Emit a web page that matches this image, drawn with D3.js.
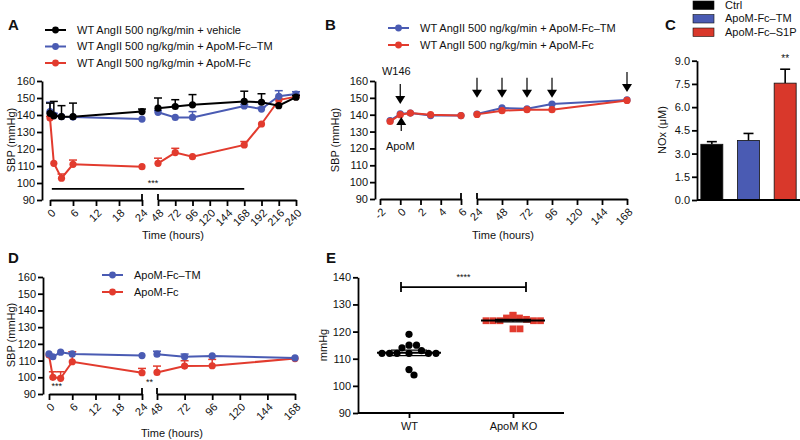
<!DOCTYPE html>
<html>
<head>
<meta charset="utf-8">
<script src="https://cdn.jsdelivr.net/npm/d3@7/dist/d3.min.js"></script>
<style>
  body { margin: 0; background: #fff; }
  svg text { font-family: "Liberation Sans", Arial, Helvetica, sans-serif; fill: #111; }
</style>
</head>
<body>
<svg id="fig" width="800" height="440"></svg>
<script>
const BLACK = '#000', BLUE = '#4a5bb3', RED = '#e23b2e';

// ---- Panel A: SBP over time, AngII infusion ----
const aTimes = [0, 1, 3, 6, 24, 48, 72, 96, 168, 192, 216, 240];
const aVehicle = [141, 139.5, 139, 139, 142, 144, 145, 146, 148, 147.5, 145.5, 150.5];
const aVehicleErr = [6, 8.5, 6.5, 8, 1.5, 6, 4, 6, 6, 5, 0.5, 1];
const aTM = [142, 140, 139, 138.8, 137.6, 141.6, 138.6, 138.6, 145.3, 143.5, 151, 152.3];
const aTMErr = [5.5, 1, 0.5, 0.5, 0.5, 1, 0.5, 3.4, 1, 1, 3.3, 1.4];
const aFc = [138.2, 111.6, 102.8, 111, 109.6, 111.6, 117.9, 115.5, 122.4, 134.7, 148.8, 150.8];
const aFcErr = [1, 0.5, 2.5, 2.5, 0.5, 3, 2.5, 0.5, 2, 0.5, 1, 1];
const aTicks1 = [0, 6, 12, 18, 24];
const aTicks2 = [48, 72, 96, 120, 144, 168, 192, 216, 240];
const aLegend = ['WT AngII 500 ng/kg/min + vehicle', 'WT AngII 500 ng/kg/min + ApoM-Fc–TM', 'WT AngII 500 ng/kg/min + ApoM-Fc'];

// ---- Panel B: W146 + ApoM ----
const bTimes = [-1, 0, 1, 3, 6, 24, 48, 72, 96, 168];
const bTM = [136.5, 140.5, 141, 139.5, 139.5, 140.4, 144, 143.5, 146.3, 148.8];
const bFc = [136, 140, 141, 140, 139.5, 140.2, 142.4, 143, 143, 148.5];
const bTicks1 = [-2, 0, 2, 4, 6];
const bTicks2 = [24, 48, 72, 96, 120, 144, 168];
const bArrowTimes = [24, 48, 72, 96, 168];
const bArrowTips = [150, 150, 150, 150, 153.5];
const bLegend = ['WT AngII 500 ng/kg/min + ApoM-Fc–TM', 'WT AngII 500 ng/kg/min + ApoM-Fc'];

// ---- Panel C: NOx ----
const cCats = ['Ctrl', 'ApoM-Fc–TM', 'ApoM-Fc–S1P'];
const cVals = [3.6, 3.85, 7.55];
const cErr = [0.17, 0.45, 0.9];
const cTicks = [0, 1.5, 3, 4.5, 6, 7.5, 9];

// ---- Panel D: normotensive ----
const dTimes = [0, 1, 3, 6, 24, 48, 72, 96, 168];
const dTM = [114, 112.3, 115, 114, 113, 113.8, 112.3, 112.8, 111.6];
const dTMErr = [0.5, 0.5, 0.5, 0.5, 0.5, 1.8, 1.6, 0.5, 0.5];
const dFc = [113.3, 100, 99.4, 109.3, 102.7, 102.9, 106.7, 106.9, 111.2];
const dFcErr = [0.5, 3.3, 3.9, 6, 2.6, 3.8, 3.2, 3.8, 0.5];
const dTicks1 = [0, 6, 12, 18, 24];
const dTicks2 = [48, 72, 96, 120, 144, 168];
const dLegend = ['ApoM-Fc–TM', 'ApoM-Fc'];

// ---- Panel E: WT vs ApoM KO ----
const eGroups = ['WT', 'ApoM KO'];
const eWT = [119, 115, 115, 114, 113, 112, 112, 112, 112, 112, 112, 106, 104];
const eKO = [126, 125, 125, 124.5, 124, 124, 124, 124, 124, 126, 121, 121];

const svg = d3.select('#fig');

function styleAxis(ax) {
  ax.select('.domain').attr('stroke', BLACK).attr('stroke-width', 1.8);
  ax.selectAll('.tick line').attr('stroke', BLACK).attr('stroke-width', 1.8);
  ax.selectAll('.tick text').style('font-size', '11px').attr('fill', '#111');
}

function brokenScale(segs) {
  const scales = segs.map(s => d3.scaleLinear().domain(s.domain).range(s.range));
  const f = t => {
    const i = segs.findIndex(s => t >= s.domain[0] && t <= s.domain[1]);
    return scales[i](t);
  };
  f.scales = scales;
  f.segs = segs;
  return f;
}

function drawBrokenX(g, bx, y0) {
  bx.segs.forEach((s, i) => {
    const ax = g.append('g').attr('transform', `translate(0,${y0})`)
      .call(d3.axisBottom(bx.scales[i]).tickValues(s.ticks).tickSize(6).tickSizeOuter(0).tickFormat(d => String(d)));
    styleAxis(ax);
    ax.selectAll('.tick text')
      .attr('x', 0).attr('y', 0).attr('dy', '0.35em')
      .attr('text-anchor', 'end')
      .attr('transform', 'translate(3,11) rotate(-45)');
  });
  // break marks at inner ends
  const ends = [bx.segs[0].range[1], bx.segs[1].range[0]];
  ends.forEach(x => g.append('line').attr('x1', x).attr('x2', x).attr('y1', y0 - 6).attr('y2', y0)
    .attr('stroke', BLACK).attr('stroke-width', 1.8));
}

function drawY(g, y, x0, ticks, fmt) {
  const ax = g.append('g').attr('transform', `translate(${x0},0)`)
    .call(d3.axisLeft(y).tickValues(ticks).tickSize(5).tickPadding(2).tickSizeOuter(0).tickFormat(fmt || (d => String(d))));
  styleAxis(ax);
  return ax;
}

function drawSeries(g, bx, y, times, vals, errs, color) {
  const pts = times.map((t, j) => ({ t, v: vals[j], e: errs ? errs[j] : 0 }));
  const s = g.append('g');
  bx.segs.forEach(sg => {
    const part = pts.filter(d => d.t >= sg.domain[0] && d.t <= sg.domain[1]);
    s.append('path').datum(part)
      .attr('fill', 'none').attr('stroke', color).attr('stroke-width', 2)
      .attr('d', d3.line().x(d => bx(d.t)).y(d => y(d.v)));
  });
  pts.filter(d => d.e > 0.6).forEach(d => {
    const x = bx(d.t), yt = y(d.v + d.e);
    s.append('line').attr('x1', x).attr('x2', x).attr('y1', y(d.v)).attr('y2', yt)
      .attr('stroke', color).attr('stroke-width', 1.5);
    s.append('line').attr('x1', x - 4).attr('x2', x + 4).attr('y1', yt).attr('y2', yt)
      .attr('stroke', color).attr('stroke-width', 1.5);
  });
  s.selectAll('circle').data(pts).enter().append('circle')
    .attr('cx', d => bx(d.t)).attr('cy', d => y(d.v)).attr('r', 3.6).attr('fill', color);
}

function lineLegend(g, items, colors, x, rows, fs) {
  items.forEach((txt, i) => {
    g.append('line').attr('x1', x).attr('x2', x + 21).attr('y1', rows[i]).attr('y2', rows[i])
      .attr('stroke', colors[i]).attr('stroke-width', 2);
    g.append('circle').attr('cx', x + 10.5).attr('cy', rows[i]).attr('r', 3.4).attr('fill', colors[i]);
    g.append('text').attr('x', x + 32).attr('y', rows[i]).attr('dy', '0.35em')
      .style('font-size', fs + 'px').text(txt);
  });
}

function yTitle(g, txt, x, y) {
  g.append('text').attr('transform', `translate(${x},${y}) rotate(-90)`)
    .attr('text-anchor', 'middle').attr('dy', '0.35em').style('font-size', '11px').text(txt);
}
function xTitle(g, txt, x, y) {
  g.append('text').attr('x', x).attr('y', y).attr('text-anchor', 'middle').style('font-size', '11px').text(txt);
}
function panelLetter(txt, x, y) {
  svg.append('text').attr('x', x).attr('y', y).attr('dy', '0.35em')
    .style('font-size', '15px').style('font-weight', 'bold').text(txt);
}
function sigText(g, txt, x, y, fs) {
  g.append('text').attr('x', x).attr('y', y).attr('text-anchor', 'middle')
    .style('font-size', (fs || 10) + 'px').text(txt);
}

// ================= Panel A =================
{
  const g = svg.append('g');
  const y = d3.scaleLinear().domain([90, 160]).range([200, 81]);
  const x = brokenScale([
    { domain: [0, 24], range: [50, 142], ticks: aTicks1 },
    { domain: [48, 240], range: [158, 296], ticks: aTicks2 }
  ]);
  drawY(g, y, 42, d3.range(90, 161, 10));
  drawBrokenX(g, x, y(90));
  drawSeries(g, x, y, aTimes, aFc, aFcErr, RED);
  drawSeries(g, x, y, aTimes, aTM, aTMErr, BLUE);
  drawSeries(g, x, y, aTimes, aVehicle, aVehicleErr, BLACK);
  // significance bar
  g.append('line').attr('x1', x(1) - 2).attr('x2', x(168)).attr('y1', y(96.5)).attr('y2', y(96.5))
    .attr('stroke', BLACK).attr('stroke-width', 1.8);
  sigText(g, '***', (x(1) + x(168)) / 2 + 4, y(98.5), 9);
  yTitle(g, 'SBP (mmHg)', 11, 140);
  xTitle(g, 'Time (hours)', 173, 239);
  lineLegend(g, aLegend, [BLACK, BLUE, RED], 45, [30, 46.5, 63], 11);
  panelLetter('A', 8, 25);
}

// ================= Panel B =================
{
  const g = svg.append('g');
  const y = d3.scaleLinear().domain([90, 160]).range([199, 81]);
  const x = brokenScale([
    { domain: [-2, 6], range: [380, 461], ticks: bTicks1 },
    { domain: [24, 168], range: [477, 627], ticks: bTicks2 }
  ]);
  drawY(g, y, 375, d3.range(90, 161, 10));
  drawBrokenX(g, x, y(90));
  drawSeries(g, x, y, bTimes, bTM, null, BLUE);
  drawSeries(g, x, y, bTimes, bFc, null, RED);

  // arrows
  const arrow = (xp, yFrom, yTo) => {
    const dir = yTo > yFrom ? 1 : -1;
    g.append('line').attr('x1', xp).attr('x2', xp).attr('y1', yFrom).attr('y2', yTo - dir * 6)
      .attr('stroke', BLACK).attr('stroke-width', 1.2);
    g.append('path').attr('d', `M${xp - 5},${yTo - dir * 8}L${xp + 5},${yTo - dir * 8}L${xp},${yTo}Z`).attr('fill', BLACK);
  };
  bArrowTimes.forEach((t, i) => arrow(x(t), y(bArrowTips[i]) - 20, y(bArrowTips[i])));
  arrow(x(0), 84, 104);
  arrow(x(0) + 1, 131, 117);
  g.append('text').attr('x', x(0) - 4).attr('y', 71).attr('dy', '0.35em').attr('text-anchor', 'middle')
    .style('font-size', '11px').text('W146');
  g.append('text').attr('x', x(0)).attr('y', 146).attr('dy', '0.35em').attr('text-anchor', 'middle')
    .style('font-size', '11px').text('ApoM');
  yTitle(g, 'SBP (mmHg)', 335, 140);
  xTitle(g, 'Time (hours)', 503, 239);
  lineLegend(g, bLegend, [BLUE, RED], 388, [28, 45], 11);
  panelLetter('B', 325, 25);
}

// ================= Panel C =================
{
  const g = svg.append('g');
  const y = d3.scaleLinear().domain([0, 9]).range([200, 60.7]);
  const x = d3.scaleBand().domain(cCats).range([699, 798]).paddingInner(0.4).paddingOuter(0.05);
  const colors = [BLACK, BLUE, '#d9382b'];
  cCats.forEach((c, i) => {
    const cx = x(c) + x.bandwidth() / 2, yt = y(cVals[i] + cErr[i]);
    g.append('line').attr('x1', cx).attr('x2', cx).attr('y1', y(cVals[i])).attr('y2', yt)
      .attr('stroke', BLACK).attr('stroke-width', 1.6);
    g.append('line').attr('x1', cx - 5).attr('x2', cx + 5).attr('y1', yt).attr('y2', yt)
      .attr('stroke', BLACK).attr('stroke-width', 1.6);
  });
  g.selectAll('rect.bar').data(cCats).enter().append('rect')
    .attr('x', d => x(d)).attr('width', x.bandwidth())
    .attr('y', (d, i) => y(cVals[i])).attr('height', (d, i) => y(0) - y(cVals[i]))
    .attr('fill', (d, i) => colors[i]).attr('stroke', '#111').attr('stroke-width', 0.8);
  drawY(g, y, 697, cTicks, d3.format('.1f'));
  g.append('line').attr('x1', 697).attr('x2', 800).attr('y1', y(0)).attr('y2', y(0))
    .attr('stroke', BLACK).attr('stroke-width', 1.8);
  sigText(g, '**', x(cCats[2]) + x.bandwidth() / 2, y(cVals[2] + cErr[2]) - 7, 10);
  yTitle(g, 'NOx (μM)', 662, 130);
  // legend
  const rows = [5, 18.5, 32];
  cCats.forEach((c, i) => {
    g.append('rect').attr('x', 693).attr('y', rows[i] - 4).attr('width', 21).attr('height', 8.5)
      .attr('fill', colors[i]).attr('stroke', '#111').attr('stroke-width', 0.6);
    g.append('text').attr('x', 725).attr('y', rows[i]).attr('dy', '0.35em').style('font-size', '11px').text(c);
  });
  panelLetter('C', 665, 25);
}

// ================= Panel D =================
{
  const g = svg.append('g');
  const y = d3.scaleLinear().domain([90, 160]).range([394, 277]);
  const x = brokenScale([
    { domain: [0, 24], range: [49, 142], ticks: dTicks1 },
    { domain: [48, 168], range: [157, 295], ticks: dTicks2 }
  ]);
  drawY(g, y, 43, d3.range(90, 161, 10));
  drawBrokenX(g, x, y(90));
  drawSeries(g, x, y, dTimes, dFc, dFcErr, RED);
  drawSeries(g, x, y, dTimes, dTM, dTMErr, BLUE);
  sigText(g, '***', x(2), y(93.2), 9);
  sigText(g, '**', (x(24) + x(48)) / 2, y(95.5), 9);
  yTitle(g, 'SBP (mmHg)', 11, 335);
  xTitle(g, 'Time (hours)', 172, 437);
  lineLegend(g, dLegend, [BLUE, RED], 102, [275, 292], 11);
  panelLetter('D', 8, 258);
}

// ================= Panel E =================
{
  const g = svg.append('g');
  const y = d3.scaleLinear().domain([90, 140]).range([413, 277.3]);
  const x = d3.scalePoint().domain(eGroups).range([409, 513]);
  drawY(g, y, 358, d3.range(90, 141, 10));
  const xa = g.append('g').attr('transform', `translate(0,${y(90)})`)
    .call(d3.axisBottom(x).tickSize(5).tickPadding(4).tickSizeOuter(0));
  xa.select('.domain').attr('d', `M358,0H564`);
  styleAxis(xa);

  // simple beeswarm: nearest free offset to the group centre
  const swarm = (vals, cx, r) => {
    const placed = [];
    return vals.map(v => {
      const py = y(v);
      let off = 0;
      for (let k = 0; k < 60; k++) {
        const cand = k === 0 ? [0] : [k * 0.5, -k * 0.5];
        const ok = cand.find(o => placed.every(p => Math.hypot(p.x - (cx + o), p.y - py) >= 2 * r * 0.98));
        if (ok !== undefined) { off = ok; break; }
      }
      const pt = { x: cx + off, y: py, v };
      placed.push(pt);
      return pt;
    });
  };
  const wt = swarm(eWT, x('WT'), 3.6);
  const ko = swarm(eKO, x('ApoM KO'), 3.5);
  g.selectAll('circle.wt').data(wt).enter().append('circle')
    .attr('cx', d => d.x).attr('cy', d => d.y).attr('r', 3.6).attr('fill', BLACK);
  g.selectAll('rect.ko').data(ko).enter().append('rect')
    .attr('x', d => d.x - 3.4).attr('y', d => d.y - 3.4).attr('width', 6.8).attr('height', 6.8).attr('fill', RED);

  [[eWT, 'WT'], [eKO, 'ApoM KO']].forEach(([vals, grp]) => {
    const m = d3.mean(vals), sem = d3.deviation(vals) / Math.sqrt(vals.length);
    const cx = x(grp);
    g.append('line').attr('x1', cx - 32).attr('x2', cx + 32).attr('y1', y(m)).attr('y2', y(m))
      .attr('stroke', BLACK).attr('stroke-width', 2);
    [m - sem, m + sem].forEach(v => g.append('line').attr('x1', cx - 18).attr('x2', cx + 18)
      .attr('y1', y(v)).attr('y2', y(v)).attr('stroke', BLACK).attr('stroke-width', 1.2));
    g.append('line').attr('x1', cx).attr('x2', cx).attr('y1', y(m - sem)).attr('y2', y(m + sem))
      .attr('stroke', BLACK).attr('stroke-width', 1.2);
  });

  // significance bracket
  const x1 = x('WT') - 8, x2 = x('ApoM KO') + 13, yb = y(136.4);
  g.append('line').attr('x1', x1).attr('x2', x2).attr('y1', yb).attr('y2', yb).attr('stroke', BLACK).attr('stroke-width', 1.8);
  [x1, x2].forEach(xx => g.append('line').attr('x1', xx).attr('x2', xx).attr('y1', yb - 5).attr('y2', yb + 5)
    .attr('stroke', BLACK).attr('stroke-width', 1.8));
  sigText(g, '****', (x1 + x2) / 2, yb - 7, 9);
  yTitle(g, 'mmHg', 323, 345);
  panelLetter('E', 326, 258);
}
</script>
</body>
</html>
